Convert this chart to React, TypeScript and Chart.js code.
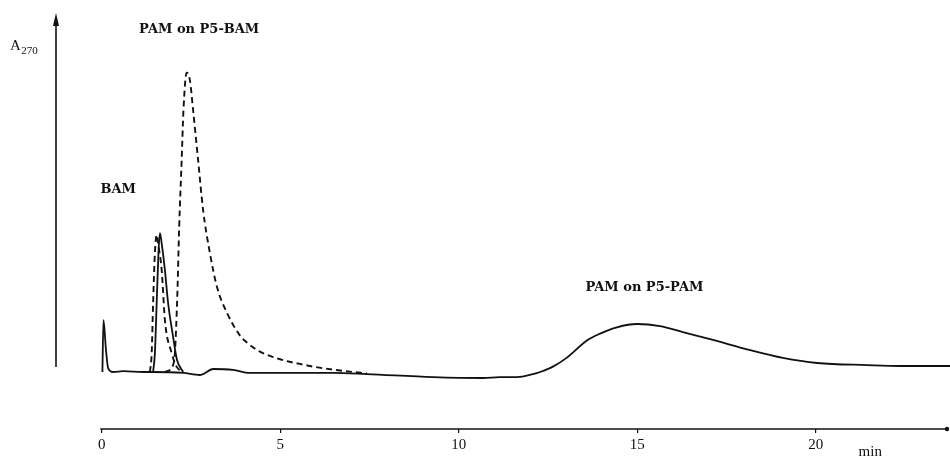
import React, { useEffect, useRef } from "react";
import { Chart, registerables } from "chart.js";

Chart.register(...registerables);

// Time axis (min) and absorbance (arbitrary units, baseline = 0)
const mainT = [0.02, 0.05, 0.12, 0.18, 0.32, 0.6, 1.16, 1.44, 2.28, 2.75, 2.84, 3.12, 3.68, 4.15, 5.08, 6.48, 7.43, 9.28, 10.68, 11.16, 11.63, 12.08, 12.28, 12.64, 13.03, 13.59, 13.96, 14.43, 14.99, 15.64, 16.28, 17.12, 18.16, 19.08, 20.04, 21.44, 22.36, 23.76];
const mainA = [0, 0.173, 0.073, 0.013, 0, 0.003, 0, 0, -0.003, -0.01, -0.007, 0.01, 0.007, -0.003, -0.003, -0.003, -0.007, -0.017, -0.02, -0.017, -0.017, -0.007, 0, 0.018, 0.048, 0.105, 0.128, 0.149, 0.16, 0.153, 0.133, 0.107, 0.073, 0.047, 0.03, 0.023, 0.02, 0.02];

const bamSolidT = [1.44, 1.49, 1.54, 1.59, 1.63, 1.69, 1.77, 1.86, 2.0, 2.11, 2.28];
const bamSolidA = [0, 0.063, 0.23, 0.397, 0.463, 0.42, 0.34, 0.23, 0.117, 0.04, 0];

const bamDashT = [1.35, 1.4, 1.44, 1.49, 1.54, 1.59, 1.68, 1.77, 1.96, 2.1, 2.28];
const bamDashA = [0, 0.063, 0.23, 0.397, 0.457, 0.42, 0.34, 0.173, 0.063, 0.017, 0];

const p5bamT = [1.77, 2.0, 2.05, 2.12, 2.17, 2.24, 2.29, 2.38, 2.47, 2.56, 2.7, 2.84, 3.03, 3.23, 3.51, 3.87, 4.07, 4.43, 4.8, 5.19, 5.55, 5.92, 6.48, 6.9, 7.43];
const p5bamA = [0, 0.023, 0.063, 0.263, 0.483, 0.707, 0.873, 0.998, 0.973, 0.873, 0.707, 0.54, 0.397, 0.283, 0.197, 0.122, 0.098, 0.068, 0.05, 0.036, 0.027, 0.018, 0.008, 0.002, -0.005];

const xTicks = [0, 5, 10, 15, 20];
const xUnit = "min";
const yLabelMain = "A";
const yLabelSub = "270";

const annotations = [
  { text: "PAM on P5-BAM", t: 2.73, a: 1.14 },
  { text: "BAM", t: 0.46, a: 0.607 },
  { text: "PAM on P5-PAM", t: 15.2, a: 0.28 },
];

const X_MIN = -1.28;
const X_MAX = 23.76;
const Y_MIN = -0.19;
const Y_MAX = 1.1967;
const Y_AXIS_BOTTOM = 0.017;
const X_AXIS_START = -0.04;

const INK = "#111";

function pts(t: number[], a: number[]) {
  return t.map((v, i) => ({ x: v, y: a[i] }));
}

const axesPlugin = {
  id: "axesDecor",
  afterDraw(chart: any) {
    const { ctx, chartArea, scales } = chart;
    const xs = scales.x;
    const ys = scales.y;
    ctx.save();
    ctx.strokeStyle = INK;
    ctx.fillStyle = INK;
    // y axis with arrow
    const yx = chartArea.left;
    const yBottom = ys.getPixelForValue(Y_AXIS_BOTTOM);
    ctx.lineWidth = 1.6;
    ctx.beginPath();
    ctx.moveTo(yx, yBottom);
    ctx.lineTo(yx, chartArea.top + 8);
    ctx.stroke();
    ctx.beginPath();
    ctx.moveTo(yx, chartArea.top);
    ctx.lineTo(yx - 3, chartArea.top + 13);
    ctx.lineTo(yx + 3, chartArea.top + 13);
    ctx.closePath();
    ctx.fill();
    // x axis line
    const xy = chartArea.bottom;
    ctx.lineWidth = 1.3;
    ctx.beginPath();
    ctx.moveTo(xs.getPixelForValue(X_AXIS_START), xy);
    ctx.lineTo(chartArea.right - 2, xy);
    ctx.stroke();
    ctx.beginPath();
    ctx.arc(chartArea.right - 3, xy, 2.2, 0, Math.PI * 2);
    ctx.fill();
    // y label A270
    ctx.textBaseline = "alphabetic";
    ctx.textAlign = "left";
    ctx.font = "15px 'Liberation Serif'";
    ctx.fillText(yLabelMain, 10, 50);
    const aw = ctx.measureText(yLabelMain).width;
    ctx.font = "11px 'Liberation Serif'";
    ctx.fillText(yLabelSub, 10 + aw + 0.5, 53.5);
    // unit label
    ctx.font = "15px 'Liberation Serif'";
    ctx.fillText(xUnit, xs.getPixelForValue(21.2), 456);
    // annotations
    ctx.font = "bold 13px 'DejaVu Serif'";
    ctx.textAlign = "center";
    ctx.textBaseline = "middle";
    for (const an of annotations) {
      ctx.fillText(an.text, xs.getPixelForValue(an.t), ys.getPixelForValue(an.a));
    }
    ctx.restore();
  },
};

export default function App() {
  const ref = useRef<HTMLCanvasElement | null>(null);
  useEffect(() => {
    if (!ref.current) return;
    const solid = { borderColor: INK, borderWidth: 1.8, pointRadius: 0, fill: false, cubicInterpolationMode: "monotone" as const };
    const dashed = { ...solid, borderWidth: 1.9, borderDash: [6, 4] };
    const chart = new Chart(ref.current, {
      type: "line",
      data: {
        datasets: [
          { label: "PAM on P5-PAM", data: pts(mainT, mainA), ...solid },
          { label: "BAM (solid)", data: pts(bamSolidT, bamSolidA), ...solid },
          { label: "BAM (dashed)", data: pts(bamDashT, bamDashA), ...dashed },
          { label: "PAM on P5-BAM", data: pts(p5bamT, p5bamA), ...dashed },
        ],
      },
      options: {
        animation: false,
        responsive: false,
        parsing: false as any,
        layout: { padding: { left: 56, top: 13, right: 0, bottom: 0 } },
        plugins: { legend: { display: false }, tooltip: { enabled: false } },
        scales: {
          x: {
            type: "linear",
            min: X_MIN,
            max: X_MAX,
            afterFit: (s: any) => {
              s.height = 29;
            },
            afterBuildTicks: (s: any) => {
              s.ticks = xTicks.map((v) => ({ value: v }));
            },
            grid: { drawOnChartArea: false, drawTicks: true, tickLength: 4, color: INK, lineWidth: 1.2 },
            border: { display: false },
            ticks: {
              autoSkip: false,
              maxRotation: 0,
              padding: 3,
              color: INK,
              font: { family: "'Liberation Serif'", size: 15 },
              callback: (v: any) => String(v),
            },
          },
          y: { type: "linear", display: false, min: Y_MIN, max: Y_MAX },
        },
      },
      plugins: [axesPlugin],
    });
    return () => chart.destroy();
  }, []);
  return (
    <div style={{ position: "absolute", left: 0, top: 0, width: 950, height: 458, background: "#fff" }}>
      <canvas ref={ref} width={950} height={458} style={{ display: "block" }} />
    </div>
  );
}
